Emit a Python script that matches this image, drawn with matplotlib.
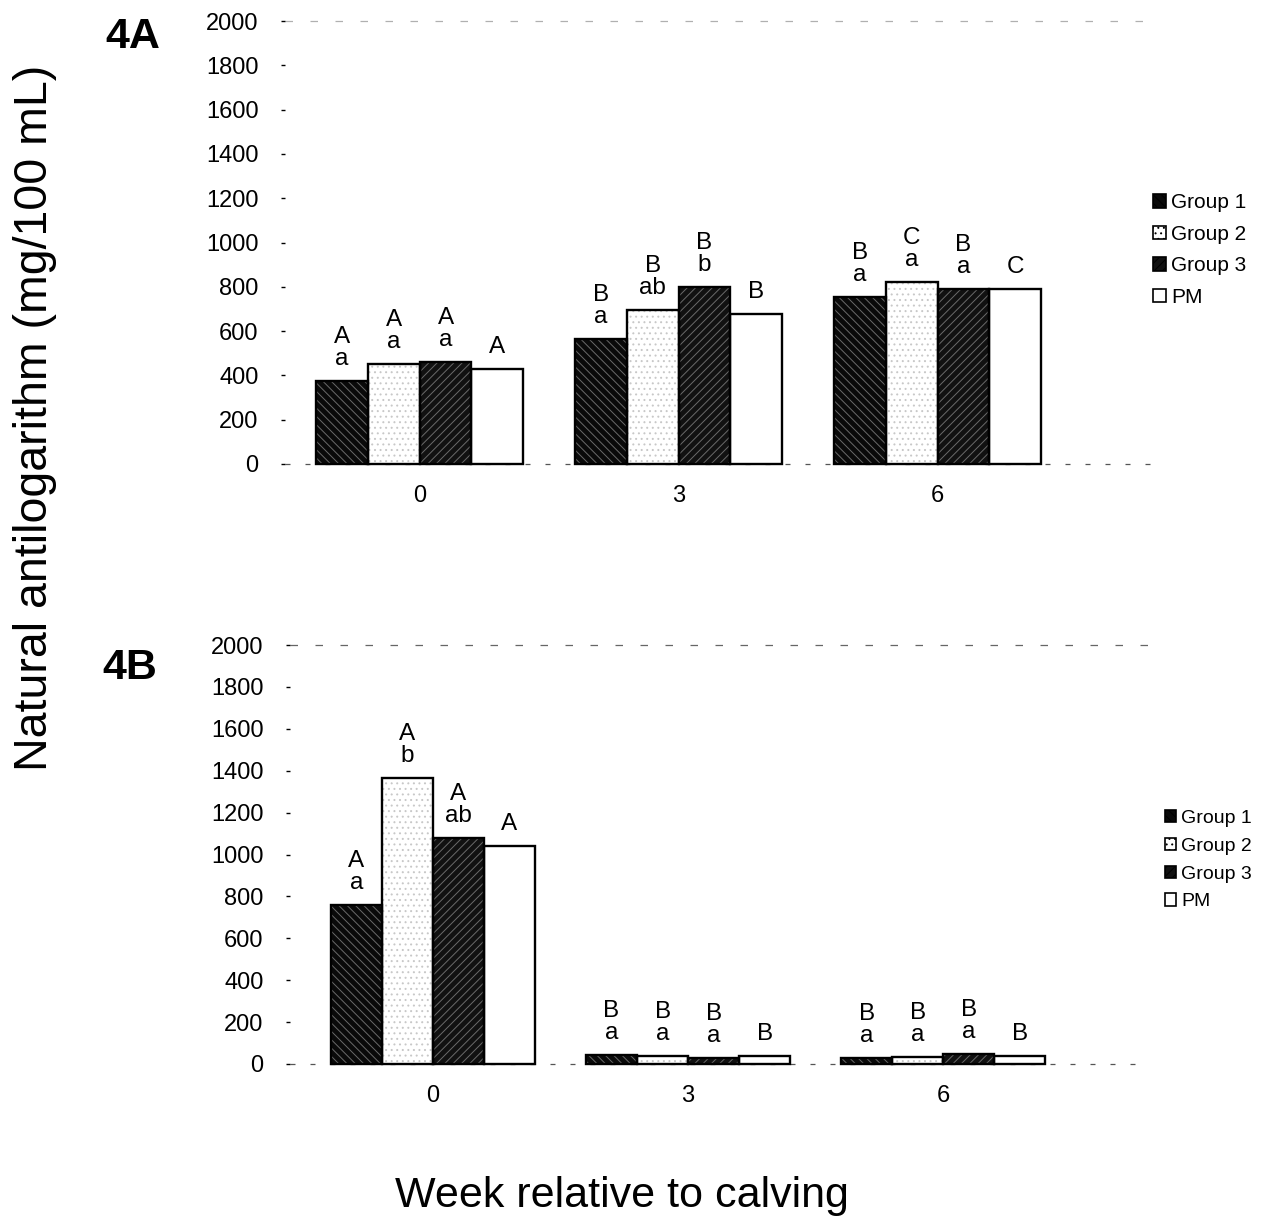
import matplotlib
matplotlib.use("Agg")
import matplotlib.pyplot as plt
from matplotlib.patches import Patch
import numpy as np

plt.rcParams["font.family"] = ["Liberation Sans", "DejaVu Sans"]
plt.rcParams["hatch.linewidth"] = 0.7

weeks = ["0", "3", "6"]
groups = ["Group 1", "Group 2", "Group 3", "PM"]

# panel 4A, one list per group across weeks 0, 3, 6
g1_a = [375, 565, 755]
g2_a = [450, 695, 822]
g3_a = [460, 800, 790]
pm_a = [430, 678, 788]
# significance letters, rows = week, cols = group
upper_a = [["A", "A", "A", "A"], ["B", "B", "B", "B"], ["B", "C", "B", "C"]]
lower_a = [["a", "a", "a", ""], ["a", "ab", "b", ""], ["a", "a", "a", ""]]

# panel 4B
g1_b = [758, 42, 28]
g2_b = [1365, 38, 32]
g3_b = [1077, 30, 48]
pm_b = [1040, 40, 40]
upper_b = [["A", "A", "A", "A"], ["B", "B", "B", "B"], ["B", "B", "B", "B"]]
lower_b = [["a", "b", "ab", ""], ["a", "a", "a", ""], ["a", "a", "a", ""]]

# fill styles: (face, hatch, hatch colour)
styles = [
    ("#0a0a0a", "\\\\\\\\", "#6a6a6a"),
    ("#ffffff", "...", "#c8c8c8"),
    ("#111111", "////", "#6a6a6a"),
    ("#ffffff", None, "#ffffff"),
]

W, H = 1270, 1225
fig = plt.figure(figsize=(W / 100, H / 100), dpi=100)


def px_axes(left, right, top, bottom):
    return fig.add_axes([left / W, 1 - bottom / H, (right - left) / W, (bottom - top) / H])


def draw_panel(ax, series, upper, lower, xlim, top_grey):
    w = 0.2
    x = np.arange(len(weeks))
    ax.axhline(0, color="#555555", lw=0.9, ls=(0, (4, 12)), zorder=1, clip_on=False)
    ax.axhline(2000, color=top_grey, lw=0.9, ls=(0, (6, 14)), zorder=1, clip_on=False)
    for j, vals in enumerate(series):
        face, hatch, hc = styles[j]
        pos = x + (j - 1.5) * w
        ax.bar(pos, vals, w, color=face, hatch=hatch, edgecolor=hc, linewidth=0, zorder=2)
        outline = ax.bar(pos, vals, w, fill=False, edgecolor="black", linewidth=1.7, zorder=3)
        for p in outline:
            p.set_clip_on(False)
        for i, v in enumerate(vals):
            txt = upper[i][j] if not lower[i][j] else upper[i][j] + "\n" + lower[i][j]
            ax.annotate(txt, (pos[i], v), xytext=(0, 8), textcoords="offset points",
                        ha="center", va="bottom", fontsize=17.5, linespacing=1.0)
    ax.set_xlim(*xlim)
    ax.set_ylim(0, 2000)
    ax.set_yticks(range(0, 2001, 200))
    ax.set_xticks(x)
    ax.set_xticklabels(weeks)
    for s in ax.spines.values():
        s.set_visible(False)
    ax.tick_params(axis="y", length=3, width=1, pad=16, labelsize=17)
    ax.tick_params(axis="x", length=0, pad=15, labelsize=17)


ax_a = px_axes(285, 1150, 21, 464)
draw_panel(ax_a, [g1_a, g2_a, g3_a, pm_a], upper_a, lower_a, (-0.52, 2.82), "#b0b0b0")

ax_b = px_axes(290, 1150, 645, 1064)
draw_panel(ax_b, [g1_b, g2_b, g3_b, pm_b], upper_b, lower_b, (-0.56, 2.81), "#666666")

handles = [Patch(facecolor=f, hatch=h, edgecolor="black", linewidth=1.2) for f, h, _ in styles]
fig.legend(handles, groups, loc="upper left", bbox_to_anchor=(1143 / W, 1 - 183 / H),
           frameon=False, fontsize=15, handlelength=0.6, handleheight=0.6,
           handletextpad=0.25, labelspacing=0.6, borderpad=0)
fig.legend(handles, groups, loc="upper left", bbox_to_anchor=(1155 / W, 1 - 800 / H),
           frameon=False, fontsize=14, handlelength=0.6, handleheight=0.6,
           handletextpad=0.25, labelspacing=0.56, borderpad=0)

fig.text(133 / W, 1 - 37 / H, "4A", fontsize=31, fontweight="bold", ha="center", va="center")
fig.text(130 / W, 1 - 668 / H, "4B", fontsize=31, fontweight="bold", ha="center", va="center")
fig.text(35 / W, 1 - 418 / H, "Natural antilogarithm (mg/100 mL)", fontsize=33.5,
         rotation=90, ha="center", va="center")
fig.text(622 / W, 1 - 1196 / H, "Week relative to calving", fontsize=31,
         ha="center", va="center")

fig.savefig("out.png", dpi=100)
